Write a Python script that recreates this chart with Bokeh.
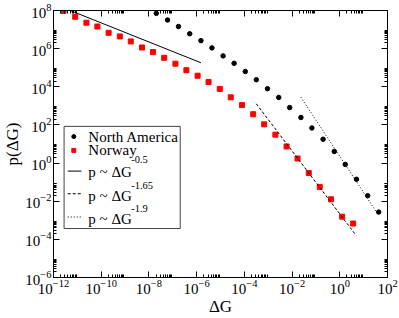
import numpy as np
from bokeh.plotting import figure
from bokeh.models import LogAxis, FixedTicker, Range1d
from bokeh.core.properties import value
from bokeh.embed import file_html
from bokeh.resources import INLINE

# ---- data (log10 values) ----
na_log_dg = [-7.69, -7.22, -6.76, -6.29, -5.82, -5.36, -4.89, -4.43, -3.96, -3.50,
             -3.03, -2.56, -2.10, -1.63, -1.17, -0.70, -0.23, 0.23, 0.70, 1.17, 1.63]
na_log_p = [7.85, 7.50, 7.16, 6.78, 6.42, 6.04, 5.62, 5.23, 4.80, 4.37,
            3.90, 3.44, 2.91, 2.39, 1.84, 1.25, 0.61, -0.07, -0.85, -1.71, -2.57]

no_log_dg = [-11.58, -11.09, -10.62, -10.16, -9.69, -9.22, -8.76, -8.29, -7.83, -7.36,
             -6.89, -6.43, -5.96, -5.50, -5.03, -4.57, -4.10, -3.63, -3.17, -2.70,
             -2.23, -1.77, -1.30, -0.84, -0.37, 0.10, 0.56]
no_log_p = [7.98, 7.67, 7.36, 7.16, 6.83, 6.64, 6.38, 6.06, 5.82, 5.52,
            5.21, 4.87, 4.58, 4.25, 3.89, 3.45, 3.04, 2.56, 2.03, 1.49,
            0.87, 0.24, -0.52, -1.25, -1.90, -2.81, -3.17]

# power-law guides: p = 10**fit_log_amp * dG**(-fit_exponent)
fit_exponent = [0.5, 1.65, 1.9]
fit_exponent_text = ["-0.5", "-1.65", "-1.9"]
fit_log_amp = [2.35, -2.665, 0.353]
fit_log_x_start = [-11.5, -3.50, -1.63]
fit_log_x_end = [-5.82, 0.685, 1.55]
fit_dash = ["solid", "3 2", "1 2"]

series_labels = ["North America", "Norway"]

x_major = [10.0 ** e for e in range(-12, 3, 2)]
y_major = [10.0 ** e for e in range(-6, 9, 2)]
x_minor = [k * 10.0 ** e for e in range(-12, 2, 2) for k in range(2, 10)]
y_minor = [k * 10.0 ** e for e in range(-6, 8, 2) for k in range(2, 10)]

SERIF = "Liberation Serif"

p = figure(width=399, height=318, x_axis_type="log", y_axis_type="log",
           x_range=Range1d(1e-12, 1e2), y_range=Range1d(1e-6, 1e8),
           output_backend="svg", toolbar_location=None,
           min_border_left=47, min_border_right=12, min_border_top=10, min_border_bottom=37)
p.xgrid.visible = False
p.ygrid.visible = False
p.outline_line_color = "black"
p.background_fill_color = "white"
p.border_fill_color = "white"

def style_axis(ax, ticks, minor, labels=True):
    ax.ticker = FixedTicker(ticks=ticks, minor_ticks=minor)
    ax.major_tick_in = 6
    ax.major_tick_out = 0
    ax.minor_tick_in = 3
    ax.minor_tick_out = 0
    ax.axis_line_color = "black"
    ax.major_tick_line_color = "black"
    ax.minor_tick_line_color = "black"
    ax.major_label_text_font = SERIF
    ax.major_label_text_color = "black"
    ax.axis_label_text_font = SERIF
    ax.axis_label_text_font_style = "normal"
    ax.axis_label_text_font_size = "17px"
    ax.axis_label_text_color = "black"
    if labels:
        ax.major_label_text_font_size = "15px"
        ax.major_label_standoff = 2
        ax.axis_label_standoff = 0
    else:
        ax.major_label_text_font_size = "1px"
        ax.major_label_text_alpha = 0
        ax.major_label_standoff = 0

style_axis(p.xaxis[0], x_major, x_minor)
style_axis(p.yaxis[0], y_major, y_minor)
p.xaxis[0].axis_label = "ΔG"
p.yaxis[0].axis_label = "p(ΔG)"

ax_top = LogAxis()
style_axis(ax_top, x_major, x_minor, labels=False)
p.add_layout(ax_top, "above")
ax_right = LogAxis()
style_axis(ax_right, y_major, y_minor, labels=False)
p.add_layout(ax_right, "right")

# ---- data marks ----
p.scatter(10.0 ** np.array(na_log_dg), 10.0 ** np.array(na_log_p), marker="circle",
          size=4.5, color="black")
p.scatter(10.0 ** np.array(no_log_dg), 10.0 ** np.array(no_log_p), marker="square",
          size=5, color="red")

for a, la, x0, x1, d in zip(fit_exponent, fit_log_amp, fit_log_x_start, fit_log_x_end, fit_dash):
    xs = 10.0 ** np.array([x0, x1])
    ys = 10.0 ** (la - a * np.array([x0, x1]))
    p.line(xs, ys, line_color="black", line_width=1, line_dash=d)

# ---- legend (positions as fractions of the frame) ----
def fx(f):
    return 10.0 ** (-12 + 14 * f)

def fy(f):
    return 10.0 ** (-6 + 14 * f)

p.quad(left=[fx(0.0317)], right=[fx(0.3794)], bottom=[fy(0.1834)], top=[fy(0.566)],
       fill_color="white", line_color="#444444", line_width=1)

mk_x = 0.0608
txt_x = 0.1043
sup_x = 0.2326
row_y = [0.5277, 0.476]
p.scatter([fx(mk_x)], [fy(row_y[0])], marker="circle", size=4, color="black")
p.scatter([fx(mk_x)], [fy(row_y[1])], marker="square", size=4, color="red")
p.text([fx(txt_x)] * 2, [fy(v) for v in row_y], text=series_labels,
       text_font=value(SERIF), text_font_size="15px", text_baseline="middle",
       text_color="black")

sample_y = [0.3985, 0.3137, 0.2266]
text_y = [0.3937, 0.3052, 0.2203]
sup_y = [0.4435, 0.3439, 0.2572]
for sy, ty, uy, d, et in zip(sample_y, text_y, sup_y, fit_dash, fit_exponent_text):
    p.line([fx(0.0426), fx(0.0837)], [fy(sy), fy(sy)], line_color="black",
           line_width=1, line_dash=d)
    p.text([fx(txt_x)], [fy(ty)], text=["p ~ ΔG"], text_font=value(SERIF),
           text_font_size="15px", text_baseline="middle", text_color="black")
    p.text([fx(sup_x)], [fy(uy)], text=[et], text_font=value(SERIF),
           text_font_size="10.5px", text_baseline="middle", text_color="black")

open("out.html", "w").write(file_html(p, INLINE))
